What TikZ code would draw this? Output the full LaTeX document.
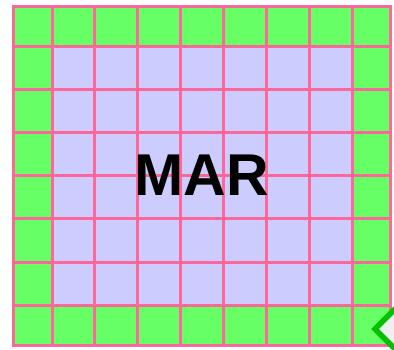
\documentclass[tikz,border=0pt]{standalone}
\usepackage{fontspec}
\setmainfont{Liberation Sans}
\usetikzlibrary{positioning}
\definecolor{cellgreen}{RGB}{102,255,102}
\definecolor{celllavender}{RGB}{204,204,255}
\definecolor{gridpink}{RGB}{255,102,153}
\definecolor{arrowgreen}{RGB}{0,192,0}
\definecolor{arrowfill}{RGB}{240,240,240}

\begin{document}
\begin{tikzpicture}[x=1pt, y=-1pt]
\useasboundingbox (0,0) rectangle (394,350);
\clip (0,0) rectangle (394,350);
\fill[cellgreen] (13,7) rectangle (390,345);
\fill[celllavender] (52,47) rectangle (352,305);
\foreach \x in {52,94.9,137.7,180.6,223.4,266.3,309.1,352}
  \draw[gridpink, line width=3pt] (\x,7) -- (\x,345);
\foreach \y in {47,90,133,176,219,262,305}
  \draw[gridpink, line width=3pt] (13,\y) -- (390,\y);
\draw[gridpink, line width=3pt] (13,7) rectangle (390,345);
\node[font=\bfseries\fontsize{59}{62}\selectfont, inner sep=0pt] (label) at (201.5,175) {MAR};
\filldraw[draw=arrowgreen, fill=arrowfill, line width=5.5pt] (400,304) -- (375,329) -- (400,354) -- cycle;
\end{tikzpicture}
\end{document}
